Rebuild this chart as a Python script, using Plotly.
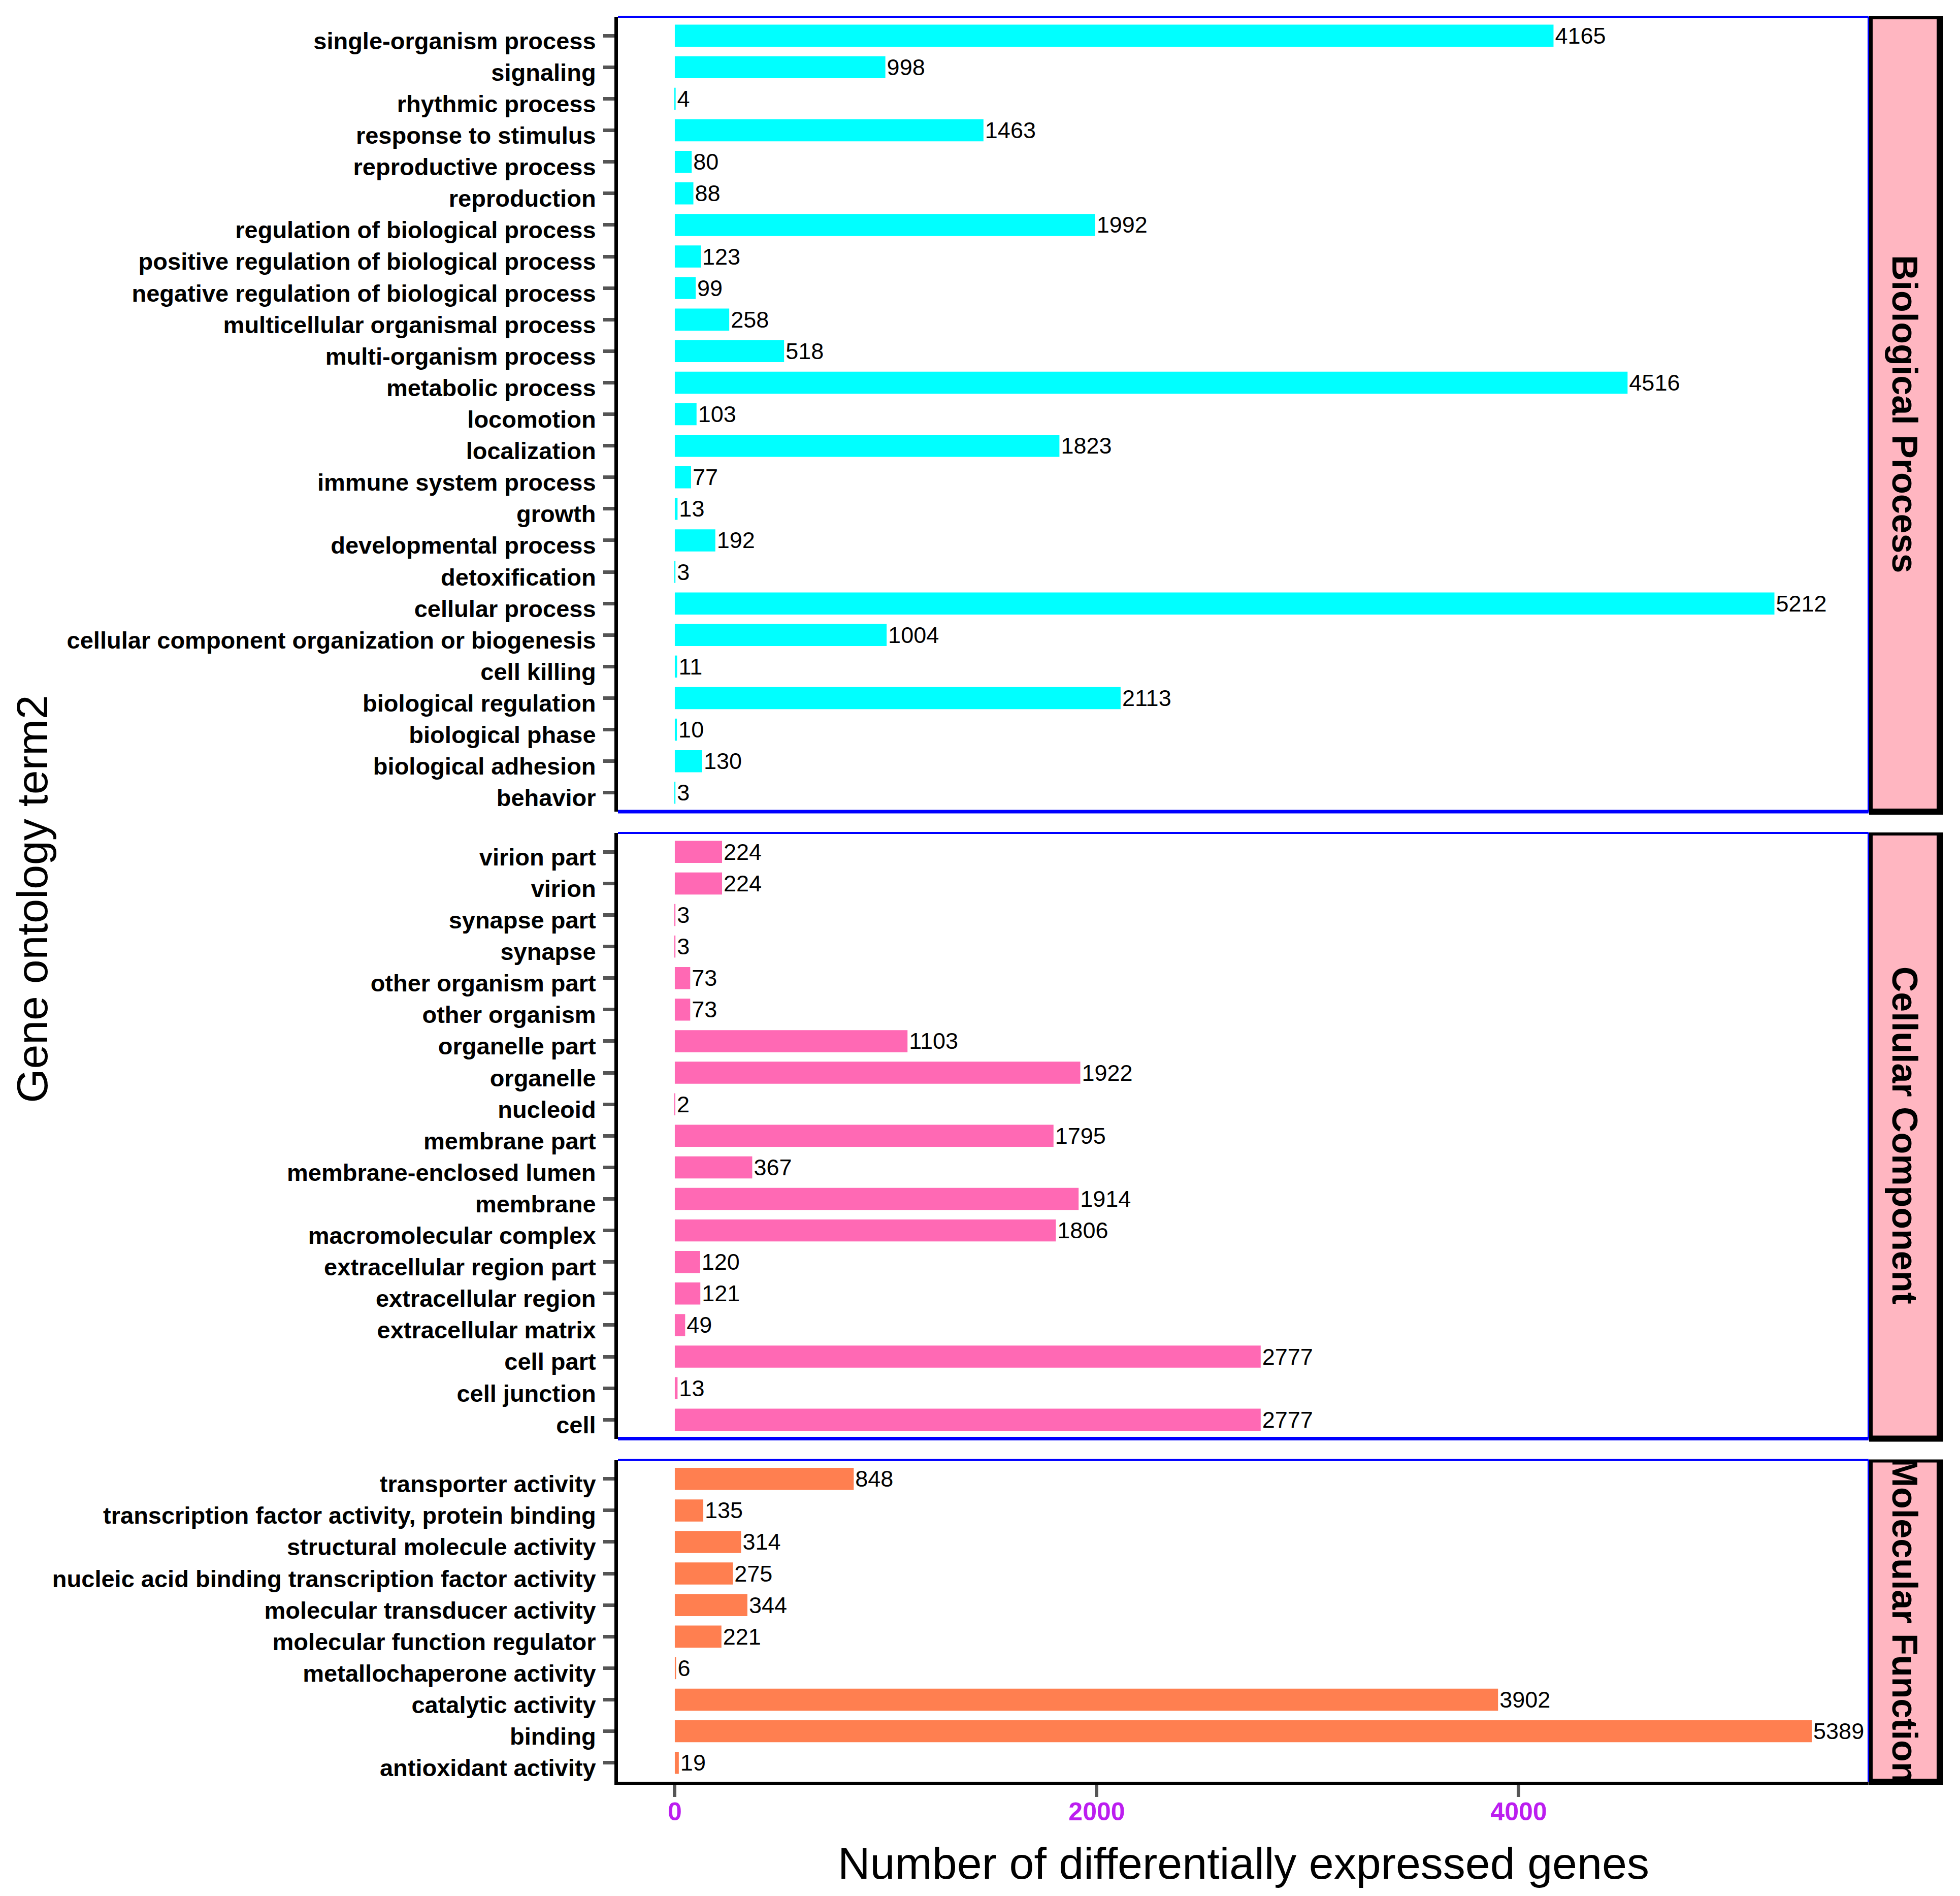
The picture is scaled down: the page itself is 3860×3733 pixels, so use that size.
import plotly.graph_objects as go

# ---------------- data (top-to-bottom order as displayed) ----------------
bp_terms = [
    "single-organism process", "signaling", "rhythmic process", "response to stimulus",
    "reproductive process", "reproduction", "regulation of biological process",
    "positive regulation of biological process", "negative regulation of biological process",
    "multicellular organismal process", "multi-organism process", "metabolic process",
    "locomotion", "localization", "immune system process", "growth",
    "developmental process", "detoxification", "cellular process",
    "cellular component organization or biogenesis", "cell killing",
    "biological regulation", "biological phase", "biological adhesion", "behavior",
]
bp_counts = [4165, 998, 4, 1463, 80, 88, 1992, 123, 99, 258, 518, 4516, 103, 1823,
             77, 13, 192, 3, 5212, 1004, 11, 2113, 10, 130, 3]

cc_terms = [
    "virion part", "virion", "synapse part", "synapse", "other organism part",
    "other organism", "organelle part", "organelle", "nucleoid", "membrane part",
    "membrane-enclosed lumen", "membrane", "macromolecular complex",
    "extracellular region part", "extracellular region", "extracellular matrix",
    "cell part", "cell junction", "cell",
]
cc_counts = [224, 224, 3, 3, 73, 73, 1103, 1922, 2, 1795, 367, 1914, 1806,
             120, 121, 49, 2777, 13, 2777]

mf_terms = [
    "transporter activity", "transcription factor activity, protein binding",
    "structural molecule activity", "nucleic acid binding transcription factor activity",
    "molecular transducer activity", "molecular function regulator",
    "metallochaperone activity", "catalytic activity", "binding", "antioxidant activity",
]
mf_counts = [848, 135, 314, 275, 344, 221, 6, 3902, 5389, 19]

facet_names = ["Biological Process", "Cellular Component", "Molecular Function"]
bar_colors = ["#00FFFF", "#FF69B4", "#FF7F50"]
x_ticks = [0, 2000, 4000]

# ---------------- geometry (page pixels; page body has an 8px margin) ----------------
PAGE_W, PAGE_H = 3860, 3733
OFF = 8
W, H = PAGE_W - 2 * OFF, PAGE_H - 2 * OFF
FONT = "Liberation Sans, Arial, Helvetica, sans-serif"
panels = [(bp_terms, bp_counts), (cc_terms, cc_counts), (mf_terms, mf_counts)]

PLOT_LEFT, PLOT_RIGHT, PLOT_TOP = 1217, 3680, 33
unit = 62.1
gap = 42
heights = [(len(t) + 0.2) * unit for t, _ in panels]
tops = []
cur = PLOT_TOP
for h in heights:
    tops.append(cur)
    cur += h + gap
bottoms = [t + h for t, h in zip(tops, heights)]

L = PLOT_LEFT - OFF
T = PLOT_TOP - OFF
R = W - (PLOT_RIGHT - OFF)
B = H - (bottoms[-1] - OFF)
PW, PH = W - L - R, H - T - B


def pxx(p):
    return (p - OFF - L) / PW


def pxy(p):
    return (H - B - (p - OFF)) / PH


def clamp(v):
    return min(1.0, max(0.0, v))


xmax = max(max(bp_counts), max(cc_counts), max(mf_counts))
xrange = [-0.05 * xmax, 1.05 * xmax]

fig = go.Figure()
layout = dict(
    width=W, height=H,
    margin=dict(l=L, r=R, t=T, b=B, pad=0),
    plot_bgcolor="white", paper_bgcolor="white",
    showlegend=False,
    font=dict(family=FONT, color="black"),
)
shapes = []
annotations = []

for i, ((terms, counts), color, name) in enumerate(zip(panels, bar_colors, facet_names)):
    sfx = "" if i == 0 else str(i + 1)
    fig.add_trace(go.Bar(
        x=counts, y=terms, orientation="h",
        marker=dict(color=color, line=dict(width=0)),
        width=0.7,
        text=[str(c) for c in counts], textposition="outside",
        textfont=dict(family=FONT, size=45, color="black"),
        constraintext="none", cliponaxis=False,
        xaxis="x" + sfx, yaxis="y" + sfx,
    ))
    n = len(terms)
    dom = [clamp(pxy(bottoms[i])), clamp(pxy(tops[i]))]
    last = (i == 2)
    layout["yaxis" + sfx] = dict(
        domain=dom, anchor="x" + sfx,
        categoryorder="array", categoryarray=list(reversed(terms)),
        range=[-0.6, n - 0.4],
        showline=True, linewidth=7, linecolor="black",
        ticks="outside", ticklen=22, tickwidth=7, tickcolor="#555555",
        ticklabelstandoff=5, ticklabelshift=10,
        tickfont=dict(family=FONT, size=47, color="black", weight="bold"),
        showgrid=False, zeroline=False,
    )
    xa = dict(
        domain=[0, 1], anchor="y" + sfx, range=xrange,
        showgrid=False, zeroline=False,
    )
    if last:
        xa.update(
            showline=True, linewidth=6, linecolor="black",
            ticks="outside", ticklen=24, tickwidth=7, tickcolor="#555555",
            tickvals=x_ticks, ticktext=[str(v) for v in x_ticks],
            ticklabelstandoff=-14,
            tickfont=dict(family=FONT, size=50, color="#BC1EF0", weight="bold"),
        )
    else:
        xa.update(showline=False, showticklabels=False, ticks="", matches="x3")
    layout["xaxis" + sfx] = xa

    # blue panel border (top, right, bottom)
    xr, yr = "x" + sfx + " domain", "y" + sfx + " domain"
    shapes.append(dict(type="line", xref=xr, yref=yr, x0=0, x1=1, y0=1, y1=1,
                       line=dict(color="#0000FF", width=4)))
    shapes.append(dict(type="line", xref=xr, yref=yr, x0=1, x1=1, y0=0, y1=1,
                       line=dict(color="#0000FF", width=4)))
    if not last:
        shapes.append(dict(type="line", xref=xr, yref=yr, x0=0, x1=1, y0=0, y1=0,
                           line=dict(color="#0000FF", width=7)))

    # facet strip
    t0, b0 = tops[i] - 1, bottoms[i]
    shapes.append(dict(type="rect", xref="paper", yref="paper",
                       x0=pxx(3681), x1=pxx(3827), y0=pxy(b0 + 6), y1=pxy(t0),
                       fillcolor="black", line=dict(width=0), layer="above"))
    shapes.append(dict(type="rect", xref="paper", yref="paper",
                       x0=pxx(3688), x1=pxx(3814), y0=pxy(b0 - 6), y1=pxy(t0 + 6),
                       fillcolor="#FFB6C1", line=dict(width=0), layer="above"))
    annotations.append(dict(
        text=name, xref="paper", yref="paper",
        x=pxx(3751), y=pxy((t0 + b0) / 2), textangle=90,
        xanchor="center", yanchor="middle", showarrow=False,
        font=dict(family=FONT, size=70, color="black", weight="bold"),
    ))

annotations.append(dict(
    text="Gene ontology term2", xref="paper", yref="paper",
    x=pxx(62), y=pxy((PLOT_TOP + bottoms[-1]) / 2), textangle=-90,
    xanchor="center", yanchor="middle", showarrow=False,
    font=dict(family=FONT, size=86, color="black"),
))
annotations.append(dict(
    text="Number of differentially expressed genes", xref="paper", yref="paper",
    x=0.5, y=pxy(3668), xanchor="center", yanchor="middle", showarrow=False,
    font=dict(family=FONT, size=88, color="black"),
))

layout["shapes"] = shapes
layout["annotations"] = annotations
fig.update_layout(**layout)

fig.write_html("out.html")
